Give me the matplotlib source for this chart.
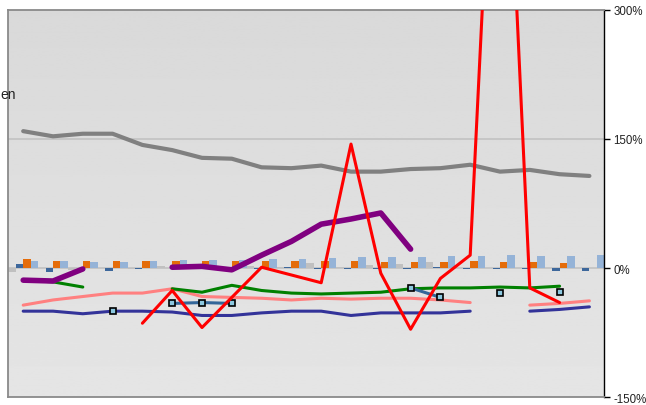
import numpy as np
import matplotlib.pyplot as plt

nan = np.nan
n_cat = 20
x = np.arange(n_cat)

# line series, in percent (nan = no value)
gray_line = [159, 153, 156, 156, 143, 137, 128, 127, 117, 116,
             119, 112, 112, 115, 116, 120, 112, 114, 109, 107]
red_line = [nan, nan, nan, nan, -64, -26, -69, -34, 1, -8,
            -17, 144, -6, -71, -12, 15, 720, -23, -40, nan]
purple_line = [-14, -15, -1, nan, nan, 1, 2, -2, 15, 31,
               51, 57, 64, 22, nan, nan, nan, nan, nan, nan]
green_line = [-14, -16, -22, nan, nan, -24, -28, -20, -26, -29,
              -30, -29, -28, -24, -23, -23, -22, -23, -21, nan]
pink_line = [-43, -37, -33, -29, -29, -24, -33, -34, -35, -37,
             -35, -36, -35, -35, -37, -40, nan, -43, -41, -38]
navy_line = [-50, -50, -53, -50, -50, -51, -55, -55, -52, -50,
             -50, -55, -52, -52, -52, -50, nan, -50, -48, -45]
steel_line = [nan, nan, nan, -50, nan, -41, -40, -41, nan, nan,
              nan, nan, nan, -23, -34, nan, -29, nan, -28, nan]

# small bars around zero
bar_gray = [-5, 0, -2, 0, -1, 2, 1, 1, 2, 1,
            6, 1, 4, 5, 7, 0, 0, 0, 0, 0]
bar_dark = [5, -4, 0, -3, -1, 0, 0, 0, -1, 1,
            -1, -1, -1, -1, 1, -1, -1, -1, -3, -3]
bar_orange = [10, 8.5, 8.5, 8.5, 8.5, 8, 8, 8, 8, 8,
              8, 8, 7.5, 7.5, 7.5, 8, 7, 7, 6, 0]
bar_light = [8.5, 8, 7, 7.5, 8, 9, 9, 9, 11, 11,
             11.5, 12.5, 12.5, 13, 14, 14, 15, 14, 14, 15]

fig = plt.figure(figsize=(6.46, 4.06), dpi=100)
ax = fig.add_axes([8.3/646, 7.7/406, 596/646, 387.6/406])

# background gradient: ~#d9d9d9 at top to ~#e4e4e4 at bottom
grad = np.linspace(217, 229, 256).reshape(-1, 1) / 255.0
ax.imshow(grad, extent=[0, 1, 0, 1], transform=ax.transAxes, aspect='auto',
          cmap='gray', vmin=0, vmax=1, zorder=0, origin='upper')

for yv in [0, 150]:
    ax.axhline(yv, color='#c4c4c4', lw=1.3, zorder=1)

w = 0.25
bar_sets = [(bar_gray, '#c0c0c0'), (bar_dark, '#3d679b'),
            (bar_orange, '#e46c0a'), (bar_light, '#95b3d7')]
for k, (vals, col) in enumerate(bar_sets):
    ax.bar(x + (k - 1.5) * w, vals, width=w, color=col, zorder=2, linewidth=0)

kw = dict(solid_joinstyle='round', solid_capstyle='round')
ax.plot(x, gray_line, color='#808080', lw=3.0, zorder=3, **kw)
ax.plot(x, navy_line, color='#333399', lw=2.2, zorder=4, **kw)
ax.plot(x, pink_line, color='#ff8080', lw=2.2, zorder=4, **kw)
ax.plot(x, green_line, color='#008000', lw=2.2, zorder=5, **kw)
ax.plot(x, purple_line, color='#800080', lw=4.0, zorder=6, **kw)
ax.plot(x, steel_line, color='#336699', lw=2.2, zorder=7, marker='s',
        markersize=5, markerfacecolor='#8cc8e0', markeredgecolor='black',
        markeredgewidth=1.2, **kw)
ax.plot(x, red_line, color='#ff0000', lw=2.2, zorder=8, **kw)

ax.set_xlim(-0.5, n_cat - 0.5)
ax.set_ylim(-150, 300)
ax.set_xticks([])
ax.yaxis.tick_right()
ax.set_yticks([-150, 0, 150, 300])
ax.set_yticklabels(['-150%', '0%', '150%', '300%'])
ax.tick_params(axis='y', direction='out', length=4, width=1, color='black',
               labelsize=8.3, labelcolor='#222222', pad=2.5)
for lab in ax.get_yticklabels():
    lab.set_family('Liberation Sans')

for side in ['left', 'top', 'bottom']:
    ax.spines[side].set_color('#8a8a8a')
    ax.spines[side].set_linewidth(1.3)
ax.spines['right'].set_color('black')
ax.spines['right'].set_linewidth(1.0)

fig.text(0.8/646, 1 - 95/406, 'en', ha='left', va='center', fontsize=10,
         family='Liberation Sans', color='#222222')

fig.savefig('out.png', dpi=100, facecolor='white')
